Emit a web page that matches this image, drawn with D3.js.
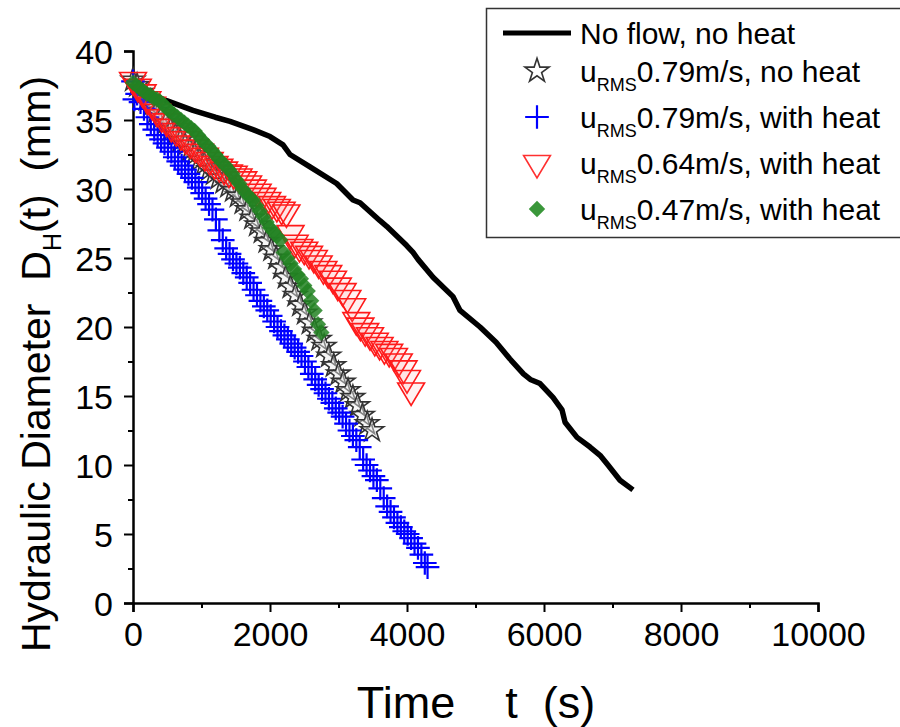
<!DOCTYPE html>
<html>
<head>
<meta charset="utf-8">
<script src="https://cdn.jsdelivr.net/npm/d3@7"></script>
<style>
  body { margin: 0; background: #fff; }
  text { font-family: "Liberation Sans", Arial, sans-serif; }
</style>
</head>
<body>
<div id="chart"></div>
<script>
// data, [time s, diameter mm]
const noFlow = [[0,37.5],[200,37.0],[491,36.4],[876,35.7],[1200,35.2],[1416,34.9],[1752,34.3],[2000,33.8],
  [2190,33.2],[2292,32.5],[2584,31.6],[2973,30.4],[3212,29.2],[3314,29.0],[3606,27.7],[3703,27.3],[3995,25.9],
  [4088,25.4],[4161,24.9],[4380,23.6],[4672,22.2],[4774,21.2],[5066,20.0],[5300,18.9],[5500,17.7],[5700,16.6],
  [5800,16.2],[5942,15.9],[6131,14.9],[6263,14.0],[6307,13.1],[6482,12.0],[6672,11.3],[6818,10.7],[6934,10.0],
  [7109,8.9],[7299,8.2]];

const starNoHeat = [[0,37.9],[60,37.5],[130,37.0],[200,36.5],[270,36.1],[340,35.6],[410,35.2],[480,34.8],[550,34.3],
  [620,33.9],[690,33.5],[760,33.2],[830,32.8],[900,32.5],[970,32.1],[1040,31.8],[1110,31.4],[1180,31.1],[1250,30.8],
  [1320,30.5],[1390,30.2],[1460,29.9],[1530,29.5],[1600,29.0],[1670,28.5],[1740,27.9],[1810,27.4],[1880,26.9],
  [1950,26.2],[2020,25.6],[2090,25.0],[2160,24.3],[2230,23.6],[2300,22.9],[2370,22.3],[2440,21.6],[2510,21.0],
  [2580,20.3],[2650,19.7],[2720,19.1],[2790,18.6],[2860,17.9],[2930,17.2],[3000,16.6],[3070,16.0],[3140,15.4],
  [3210,14.9],[3280,14.3],[3350,13.6],[3420,13.0],[3490,12.5]];

const plusHeat = [[0,37.8],[20,36.5],[60,36.9],[110,36.3],[160,35.8],[210,35.2],[260,34.7],[310,34.3],[360,33.9],
  [410,33.6],[460,33.3],[510,33.0],[560,32.7],[610,32.3],[660,32.0],[710,31.7],[760,31.4],[810,31.1],[860,30.8],
  [910,30.5],[960,30.1],[1010,29.7],[1060,29.3],[1110,28.9],[1160,28.5],[1210,27.8],[1260,27.0],[1310,26.3],
  [1360,25.7],[1410,25.3],[1460,24.9],[1510,24.6],[1560,24.3],[1610,23.9],[1660,23.6],[1710,23.2],[1760,22.7],
  [1810,22.3],[1860,21.9],[1910,21.5],[1960,21.2],[2010,20.8],[2060,20.4],[2110,20.0],[2160,19.7],[2210,19.4],
  [2260,19.1],[2310,18.8],[2360,18.5],[2410,18.2],[2460,17.9],[2510,17.5],[2560,17.1],[2610,16.6],[2660,16.2],
  [2710,15.8],[2760,15.5],[2810,15.2],[2860,14.8],[2910,14.5],[2960,14.1],[3010,13.8],[3060,13.5],[3110,13.0],
  [3160,12.5],[3210,12.1],[3260,11.8],[3310,11.3],[3360,10.4],[3410,10.0],[3460,9.6],[3510,9.2],[3560,8.9],
  [3610,8.3],[3660,7.6],[3710,7.0],[3760,6.6],[3810,6.2],[3860,5.8],[3910,5.5],[3960,5.2],[4010,5.0],[4060,4.7],
  [4110,4.3],[4160,4.0],[4210,3.5],[4260,2.9],[4300,2.6]];

const triHeat = [[0,37.9],[70,37.4],[140,37.0],[210,36.5],[280,36.1],[350,35.6],[420,35.2],[490,34.9],[560,34.5],
  [630,34.2],[700,33.9],[770,33.6],[840,33.3],[910,33.0],[980,32.7],[1050,32.4],[1120,32.1],[1190,31.8],[1260,31.6],
  [1330,31.4],[1400,31.2],[1470,31.1],[1540,30.9],[1610,30.7],[1680,30.4],[1750,30.1],[1820,29.8],[1890,29.5],
  [1960,29.2],[2030,28.9],[2100,28.7],[2170,28.5],[2240,28.3],[2300,26.8],[2360,26.1],[2430,25.8],[2500,25.6],
  [2570,25.3],[2640,25.0],[2710,24.6],[2780,24.2],[2850,23.9],[2920,23.5],[2990,23.0],[3060,22.6],[3130,22.1],
  [3200,21.5],[3260,20.5],[3320,20.1],[3390,19.7],[3460,19.4],[3530,19.0],[3600,18.7],[3670,18.4],[3740,18.2],
  [3810,17.9],[3880,17.5],[3950,17.0],[4000,16.3],[4060,15.4]];

const diamondHeat = [[0,37.7],[50,37.5],[100,37.3],[150,37.1],[200,36.9],[250,36.8],[300,36.6],[350,36.5],[400,36.3],
  [450,36.1],[500,35.8],[550,35.6],[600,35.4],[650,35.2],[700,35.0],[750,34.8],[800,34.6],[850,34.4],[900,34.2],
  [950,33.9],[1000,33.6],[1050,33.3],[1100,33.1],[1150,32.8],[1200,32.5],[1250,32.2],[1300,31.9],[1350,31.7],
  [1400,31.4],[1450,31.1],[1500,30.7],[1550,30.4],[1600,30.0],[1650,29.7],[1700,29.4],[1750,29.2],[1800,28.8],
  [1850,28.4],[1900,28.0],[1950,27.6],[2000,27.2],[2050,26.9],[2100,26.6],[2150,26.3],[2200,25.4],[2250,25.0],
  [2300,24.6],[2350,24.2],[2400,23.8],[2450,23.5],[2500,23.0],[2550,22.6],[2600,21.9],[2650,21.2],[2700,20.2],
  [2750,19.6]];

const xTicks = [0, 2000, 4000, 6000, 8000, 10000];
const yTicks = [0, 5, 10, 15, 20, 25, 30, 35, 40];
const xMinor = [1000, 3000, 5000, 7000, 9000];
const yMinor = [2.5, 7.5, 12.5, 17.5, 22.5, 27.5, 32.5, 37.5];

const W = 900, H = 727;
const margin = {top: 51, right: 82, bottom: 124, left: 133},
    width = W - margin.left - margin.right,
    height = H - margin.top - margin.bottom;

const svg = d3.select("#chart").append("svg")
    .attr("width", W)
    .attr("height", H);

const g = svg.append("g")
    .attr("transform", `translate(${margin.left}, ${margin.top})`);

const x = d3.scaleLinear().domain([0, 10000]).range([0, width]);
const y = d3.scaleLinear().domain([0, 40]).range([height, 0]);

// custom symbols
const plusType = {
  draw(ctx, size) {
    const r = Math.sqrt(size) / 2;
    ctx.moveTo(-r, 0); ctx.lineTo(r, 0);
    ctx.moveTo(0, -r); ctx.lineTo(0, r);
  }
};
const downTri = {
  draw(ctx, size) {
    const s = Math.sqrt(size);
    ctx.moveTo(-s / 2, -s * 0.28);
    ctx.lineTo(s / 2, -s * 0.28);
    ctx.lineTo(0, s * 0.56);
    ctx.closePath();
  }
};
const starPath = d3.symbol().type(d3.symbolStar).size(170)();
const plusPath = d3.symbol().type(plusType).size(560)();
const triPath = d3.symbol().type(downTri).size(720)();
const diaPath = d3.symbol().type(d3.symbolSquare).size(135)();

// axes
const xAxis = g.append("g")
    .attr("transform", `translate(0, ${height})`)
    .call(d3.axisBottom(x).tickValues(xTicks).tickSize(9).tickPadding(8).tickFormat(d3.format("d")));
g.append("g")
    .attr("transform", `translate(0, ${height})`)
    .call(d3.axisBottom(x).tickValues(xMinor).tickSize(5).tickFormat(""))
    .select(".domain").remove();

const yAxis = g.append("g")
    .call(d3.axisLeft(y).tickValues(yTicks).tickSize(9).tickPadding(11));
g.append("g")
    .call(d3.axisLeft(y).tickValues(yMinor).tickSize(5).tickFormat(""))
    .select(".domain").remove();

g.selectAll(".domain").attr("stroke", "#000").attr("stroke-width", 2.5);
g.selectAll(".tick line").attr("stroke", "#000").attr("stroke-width", 2);
g.selectAll(".tick text")
    .attr("fill", "#000")
    .style("font-family", "'Liberation Sans', Arial, sans-serif")
    .style("font-size", "34px");
xAxis.selectAll(".tick text").attr("dy", "0.76em");
yAxis.selectAll(".tick text").attr("dy", "0.36em");

// no flow line
g.append("path")
    .datum(noFlow)
    .attr("fill", "none")
    .attr("stroke", "#000")
    .attr("stroke-width", 5.5)
    .attr("stroke-linejoin", "round")
    .attr("d", d3.line().x(d => x(d[0])).y(d => y(d[1])));

// stars
g.selectAll(".star").data(starNoHeat).enter()
  .append("path")
    .attr("d", starPath)
    .attr("transform", d => `translate(${x(d[0])}, ${y(d[1])})`)
    .attr("fill", "rgba(235,235,235,0.45)")
    .attr("stroke", "#333")
    .attr("stroke-width", 1.6);

// plus
g.selectAll(".plus").data(plusHeat).enter()
  .append("path")
    .attr("d", plusPath)
    .attr("transform", d => `translate(${x(d[0])}, ${y(d[1])})`)
    .attr("fill", "none")
    .attr("stroke", "#0000ff")
    .attr("stroke-width", 2.2);

// triangles
g.selectAll(".tri").data(triHeat).enter()
  .append("path")
    .attr("d", triPath)
    .attr("transform", d => `translate(${x(d[0])}, ${y(d[1])})`)
    .attr("fill", "rgba(255,120,120,0.1)")
    .attr("stroke", "#ff1a1a")
    .attr("stroke-width", 1.6);

// diamonds
g.selectAll(".dia").data(diamondHeat).enter()
  .append("path")
    .attr("d", diaPath)
    .attr("transform", d => `translate(${x(d[0])}, ${y(d[1])}) rotate(45)`)
    .attr("fill", "rgba(34,130,34,0.85)");

// axis titles
svg.append("text")
    .attr("x", 476)
    .attr("y", 718)
    .attr("text-anchor", "middle")
    .style("font-size", "45px")
    .attr("xml:space", "preserve")
    .text("Time    t  (s)");

const yt = svg.append("text")
    .attr("transform", "translate(50, 364) rotate(-90)")
    .attr("text-anchor", "middle")
    .attr("xml:space", "preserve")
    .style("font-size", "41px");
yt.append("tspan").text("Hydraulic Diameter  D");
yt.append("tspan").attr("dy", 11).style("font-size", "25px").text("H");
yt.append("tspan").attr("dy", -11).text("(t)  (mm)");

// legend
const legend = svg.append("g");
legend.append("rect")
    .attr("x", 486.5).attr("y", 8.5)
    .attr("width", 420).attr("height", 229)
    .attr("fill", "#fff")
    .attr("stroke", "#333")
    .attr("stroke-width", 1.5);

const legendLabels = ["No flow, no heat", "0.79m/s, no heat", "0.79m/s, with heat", "0.64m/s, with heat", "0.47m/s, with heat"];
const legendY = [33, 71, 117, 163, 209];

legend.append("line")
    .attr("x1", 503).attr("x2", 571)
    .attr("y1", legendY[0]).attr("y2", legendY[0])
    .attr("stroke", "#000").attr("stroke-width", 5);
legend.append("path").attr("d", d3.symbol().type(d3.symbolStar).size(180)())
    .attr("transform", `translate(537, ${legendY[1]})`)
    .attr("fill", "#fff").attr("stroke", "#333").attr("stroke-width", 1.6);
legend.append("path").attr("d", plusPath)
    .attr("transform", `translate(537, ${legendY[2]})`)
    .attr("stroke", "#0000ff").attr("stroke-width", 2.2);
legend.append("path").attr("d", triPath)
    .attr("transform", `translate(537, ${legendY[3]})`)
    .attr("fill", "#fff").attr("stroke", "#ff3030").attr("stroke-width", 1.6);
legend.append("path").attr("d", diaPath)
    .attr("transform", `translate(537, ${legendY[4]}) rotate(45)`)
    .attr("fill", "#3a973a");

legendLabels.forEach((lab, i) => {
  const t = legend.append("text")
      .attr("x", 580)
      .attr("y", legendY[i] + 11)
      .style("font-size", "30px");
  if (i === 0) {
    t.text(lab);
  } else {
    t.append("tspan").text("u");
    t.append("tspan").attr("dy", 9).style("font-size", "18px").text("RMS");
    t.append("tspan").attr("dy", -9).text(lab);
  }
});
</script>
</body>
</html>
